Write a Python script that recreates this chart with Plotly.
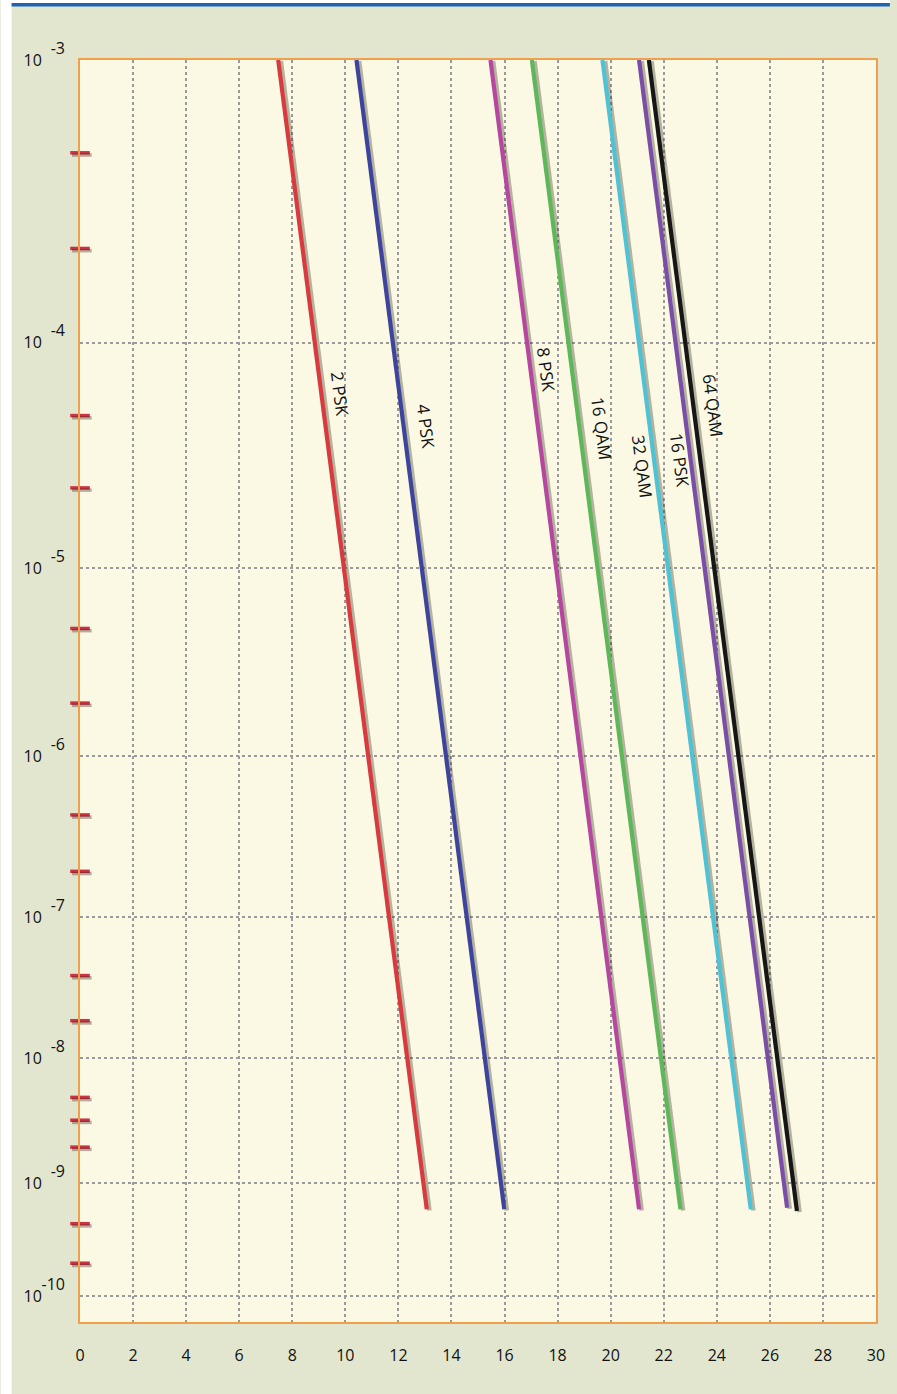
import numpy as np
import plotly.graph_objects as go

# ---------------- data ----------------
series_names = ["2 PSK", "4 PSK", "8 PSK", "16 QAM", "32 QAM", "16 PSK", "64 QAM"]
series_colors = ["#d93a3f", "#3e449e", "#b6469f", "#5db85a", "#4fc2d5", "#7a4ea8", "#161616"]
snr_start = [7.47, 10.42, 15.47, 17.03, 19.69, 21.07, 21.44]   # dB at BER = 1e-3
snr_end = [13.07, 15.99, 21.07, 22.63, 25.28, 26.65, 27.02]    # dB at BER end
ber_start = [1e-3] * 7
ber_end = [6e-10, 6e-10, 6e-10, 6e-10, 6e-10, 6.2e-10, 5.8e-10]

label_snr = [9.80, 13.05, 17.57, 19.66, 21.20, 22.62, 23.85]
label_ber = [6.2e-5, 4.5e-5, 7.8e-5, 4.4e-5, 3.0e-5, 3.2e-5, 5.5e-5]

decade_exponents = [3, 4, 5, 6, 7, 8, 9, 10]
red_tick_ber = [5e-4, 2.3e-4, 5e-5, 2.4e-5, 5e-6, 2e-6, 4.5e-7, 2e-7,
                4e-8, 1.9e-8, 5e-9, 3.3e-9, 2e-9, 4.5e-10, 2e-10]
x_ticks = list(range(0, 31, 2))
ber_axis_top = 1e-3
ber_axis_bottom = 10 ** -10.246


def paper_scale(ber):
    """probability-paper coordinate (plotted on a log axis)"""
    return -np.log10(np.asarray(ber, dtype=float)) + 0.5


W, H = 897, 1394
ML, MR, MT, MB = 80, 14, 60, 72
PW, PH = W - ML - MR, H - MT - MB


def px_x(px):
    return (px - ML) / PW


def px_y(py):
    return (H - MB - py) / PH


FONT = "Open Sans, Noto Sans, sans-serif"
fig = go.Figure()

# shadows
for i in range(len(series_names)):
    fig.add_trace(go.Scatter(
        x=np.array([snr_start[i], snr_end[i]]) + 0.1,
        y=paper_scale([ber_start[i], ber_end[i]]) * 1.001,
        mode="lines", line=dict(color="rgba(30,30,10,0.32)", width=4.5),
        hoverinfo="skip", showlegend=False))

# curves
for i, name in enumerate(series_names):
    fig.add_trace(go.Scatter(
        x=[snr_start[i], snr_end[i]],
        y=paper_scale([ber_start[i], ber_end[i]]),
        mode="lines", name=name,
        line=dict(color=series_colors[i], width=4.2),
        showlegend=False))

# red axis ticks (shadow on the exponent axis + tick)
fig.add_trace(go.Scatter(
    x=[0.07] * len(red_tick_ber), y=paper_scale(red_tick_ber) * 1.002,
    yaxis="y2",
    mode="markers", cliponaxis=False, hoverinfo="skip", showlegend=False,
    marker=dict(symbol="line-ew", size=14, line=dict(color="rgba(60,30,30,0.35)", width=3.5))))
fig.add_trace(go.Scatter(
    x=[0] * len(red_tick_ber), y=paper_scale(red_tick_ber),
    mode="markers", cliponaxis=False, hoverinfo="skip", showlegend=False,
    marker=dict(symbol="line-ew", size=14, line=dict(color="#cc3340", width=3.5))))

# labels
for i, name in enumerate(series_names):
    fig.add_annotation(
        x=label_snr[i], y=float(np.log10(paper_scale(label_ber[i]))),
        xref="x", yref="y", text=name, showarrow=False, textangle=82.5,
        font=dict(family=FONT, size=17, color="#111"))

y_tickvals = [float(paper_scale(10.0 ** -k)) for k in decade_exponents]
y_range = [float(np.log10(paper_scale(ber_axis_bottom))),
           float(np.log10(paper_scale(ber_axis_top)))]

fig.update_layout(
    width=W, height=H, autosize=False,
    margin=dict(l=ML, r=MR, t=MT, b=MB),
    paper_bgcolor="#e3e6cf", plot_bgcolor="#fbf9e4",
    font=dict(family=FONT, size=16, color="#111"),
    xaxis=dict(range=[0, 30], tickvals=x_ticks, ticktext=[str(v) for v in x_ticks],
               tickfont=dict(size=16),
               showgrid=True, gridcolor="#9a9a9a", griddash="dot", gridwidth=1.6,
               zeroline=False, showline=True, mirror=True, linecolor="#f0a04d",
               linewidth=2, ticks="", ticklabelstandoff=18),
    yaxis=dict(type="log", range=y_range,
               tickvals=y_tickvals, ticktext=["10"] * len(decade_exponents),
               tickfont=dict(size=16),
               showgrid=True, gridcolor="#9a9a9a", griddash="dot", gridwidth=1.6,
               zeroline=False, showline=True, mirror=True, linecolor="#f0a04d",
               linewidth=2, ticks="", ticklabelstandoff=33),
    yaxis2=dict(type="log", range=y_range, overlaying="y", side="left",
                tickvals=y_tickvals, ticktext=[f"-{k}" for k in decade_exponents],
                tickfont=dict(size=16), showgrid=False, zeroline=False,
                showline=False, ticks="", ticklabelstandoff=14, ticklabelshift=12),
    shapes=[
        dict(type="rect", xref="paper", yref="paper",
             x0=px_x(0), x1=px_x(11), y0=px_y(H), y1=px_y(0),
             fillcolor="white", line=dict(width=0)),
        dict(type="rect", xref="paper", yref="paper",
             x0=px_x(0), x1=px_x(W), y0=px_y(3), y1=px_y(0),
             fillcolor="white", line=dict(width=0)),
        dict(type="rect", xref="paper", yref="paper",
             x0=px_x(11), x1=px_x(W), y0=px_y(6.5), y1=px_y(3),
             fillcolor="#1e64b4", line=dict(width=0)),
    ],
)

fig.write_html("out.html", config={"displayModeBar": False},
               post_script="document.body.style.margin='0';document.body.style.overflow='hidden';")
